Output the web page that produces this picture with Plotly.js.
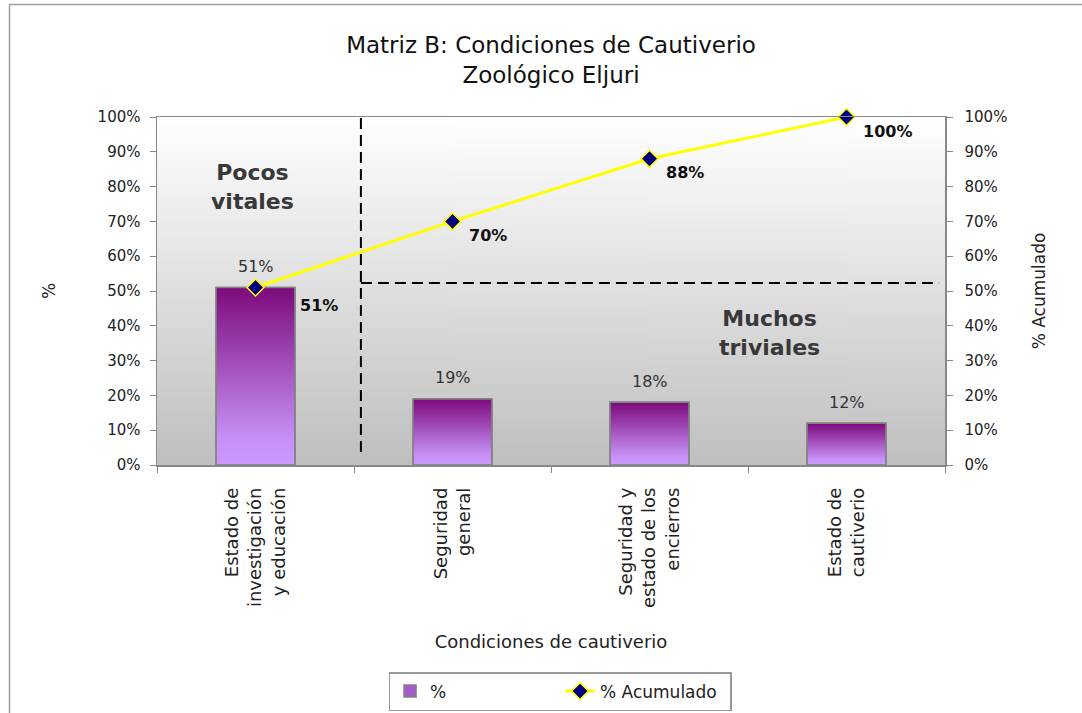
<!DOCTYPE html>
<html>
<head>
<meta charset="utf-8">
<script src="https://cdn.plot.ly/plotly-3.0.1.min.js"></script>
<style>
  html, body { margin: 0; padding: 0; background: #ffffff; }
  #chart { width: 1082px; height: 713px; }
</style>
</head>
<body>
<div id="chart"></div>
<script>
// ---- Data ----
const categories = [
  'Estado de<br>investigación<br>y educación',
  'Seguridad<br>general',
  'Seguridad y<br>estado de los<br>encierros',
  'Estado de<br>cautiverio'
];
const pctValues = [51, 19, 18, 12];
const cumValues = [51, 70, 88, 100];
const pctLabels = ['51%', '19%', '18%', '12%'];
const cumLabels = ['51%', '70%', '88%', '100%'];
const yTickValues = [0, 10, 20, 30, 40, 50, 60, 70, 80, 90, 100];
const yTickLabels = ['0%', '10%', '20%', '30%', '40%', '50%', '60%', '70%', '80%', '90%', '100%'];

const FONT = 'DejaVu Sans, sans-serif';
const idx = categories.map((c, i) => i);
const halfW = 0.2;

// background gradient for plot area
function gradientURL(top, bottom) {
  const cv = document.createElement('canvas');
  cv.width = 4; cv.height = 256;
  const ctx = cv.getContext('2d');
  const g = ctx.createLinearGradient(0, 0, 0, 256);
  g.addColorStop(0, top);
  g.addColorStop(1, bottom);
  ctx.fillStyle = g;
  ctx.fillRect(0, 0, 4, 256);
  return cv.toDataURL('image/png');
}

const traces = [];

// bar trace (data + legend)
traces.push({
  type: 'bar',
  name: '%',
  x: idx,
  y: pctValues,
  width: 2 * halfW,
  marker: { color: '#a55ad0', line: { color: '#808080', width: 1.5 } },
  hoverinfo: 'skip'
});

// gradient faces of the bars
pctValues.forEach((v, i) => {
  traces.push({
    type: 'scatter',
    mode: 'lines',
    x: [i - halfW, i + halfW, i + halfW, i - halfW, i - halfW],
    y: [0, 0, v, v, 0],
    fill: 'toself',
    fillgradient: {
      type: 'vertical',
      start: 0,
      stop: v,
      colorscale: [[0, '#cc99ff'], [0.15, '#c690f6'], [1, '#7d0a7d']]
    },
    line: { color: '#808080', width: 1.5 },
    showlegend: false,
    hoverinfo: 'skip'
  });
});

// cumulative line
traces.push({
  type: 'scatter',
  mode: 'lines+markers',
  name: '% Acumulado',
  x: idx,
  y: cumValues,
  yaxis: 'y2',
  line: { color: '#ffff00', width: 3 },
  marker: { symbol: 'diamond', size: 13, color: '#000080', line: { color: '#ffff00', width: 1.5 } },
  cliponaxis: false,
  hoverinfo: 'skip'
});

const annotations = [];
pctValues.forEach((v, i) => {
  annotations.push({
    x: i, y: v, xref: 'x', yref: 'y',
    text: pctLabels[i], showarrow: false,
    yanchor: 'middle', yshift: 21,
    font: { family: FONT, size: 16, color: '#333333' }
  });
});
cumValues.forEach((v, i) => {
  annotations.push({
    x: i, y: v, xref: 'x', yref: 'y2',
    text: '<b>' + cumLabels[i] + '</b>', showarrow: false,
    xanchor: 'left', yanchor: 'middle',
    xshift: i === 0 ? 42 : 14, yshift: i === 0 ? -18 : -14,
    font: { family: FONT, size: 16, color: '#111111' }
  });
});
annotations.push({
  x: -0.013, y: 79.9, xref: 'x', yref: 'y',
  text: '<b>Pocos<br>vitales</b>', showarrow: false,
  font: { family: FONT, size: 22, color: '#383838' }
});
annotations.push({
  x: 2.61, y: 37.9, xref: 'x', yref: 'y',
  text: '<b>Muchos<br>triviales</b>', showarrow: false,
  font: { family: FONT, size: 22, color: '#383838' }
});

const dashLine = { color: '#000000', width: 2, dash: '11px,6px' };
const shapes = [
  { type: 'line', xref: 'x', yref: 'y', x0: 0.535, x1: 0.535, y0: 3.7, y1: 100.5, line: dashLine },
  { type: 'line', xref: 'x', yref: 'y', x0: 0.535, x1: 3.47, y0: 52.3, y1: 52.3, line: dashLine },
  { type: 'path', xref: 'paper', yref: 'paper',
    path: 'M -0.1872,-0.72 L -0.1872,1.3233 L 1.18,1.3233',
    line: { color: '#a0a0a0', width: 1.5 } }
];

const boundaryTicks = [-0.5, 0.5, 1.5, 2.5, 3.5];

const layout = {
  width: 1082, height: 713,
  margin: { l: 157, r: 137, t: 117, b: 248, autoexpand: false },
  paper_bgcolor: '#ffffff',
  plot_bgcolor: '#c0c0c0',
  font: { family: FONT, color: '#222222' },
  hovermode: false,
  showlegend: true,
  title: {
    text: 'Matriz B: Condiciones de Cautiverio<br>Zoológico Eljuri',
    font: { family: FONT, size: 23, color: '#111111' },
    x: 0.5, xref: 'paper', xanchor: 'center',
    y: 0.925, yref: 'container', yanchor: 'middle'
  },
  images: [{
    source: gradientURL('#ffffff', '#bfbfbf'),
    xref: 'paper', yref: 'paper', x: 0, y: 1, sizex: 1, sizey: 1,
    xanchor: 'left', yanchor: 'top', sizing: 'stretch', layer: 'below'
  }],
  xaxis: {
    type: 'linear',
    range: [-0.5, 3.5],
    tickmode: 'array', tickvals: idx, ticktext: categories,
    tickangle: -90,
    ticks: '',
    ticklabelstandoff: 14,
    tickfont: { family: FONT, size: 18, color: '#222222' },
    minor: { tickmode: 'array', tickvals: boundaryTicks, ticks: 'outside', ticklen: 6, tickcolor: '#888888', tickwidth: 1, showgrid: false },
    showline: true, linecolor: '#888888', linewidth: 1.5, mirror: true,
    showgrid: false, zeroline: false, fixedrange: true,
    title: { text: 'Condiciones de cautiverio', font: { family: FONT, size: 18, color: '#222222' }, standoff: 28 }
  },
  xaxis2: {
    overlaying: 'x', anchor: 'y', side: 'bottom',
    type: 'linear', range: [-0.5, 3.5],
    tickmode: 'array', tickvals: boundaryTicks,
    ticks: 'inside', ticklen: 6, tickcolor: '#888888', tickwidth: 1,
    showticklabels: false, showline: false, showgrid: false, zeroline: false
  },
  yaxis: {
    range: [0, 100],
    tickmode: 'array', tickvals: yTickValues, ticktext: yTickLabels,
    ticks: 'outside', ticklen: 6, tickcolor: '#888888', tickwidth: 1,
    ticklabelstandoff: 6,
    tickfont: { family: FONT, size: 15, color: '#222222' },
    showline: true, linecolor: '#888888', linewidth: 1.5,
    showgrid: false, zeroline: false, fixedrange: true,
    title: { text: '%', font: { family: FONT, size: 17, color: '#222222' }, standoff: 37 }
  },
  yaxis2: {
    overlaying: 'y', side: 'right',
    range: [0, 100],
    tickmode: 'array', tickvals: yTickValues, ticktext: yTickLabels,
    ticks: 'outside', ticklen: 6, tickcolor: '#888888', tickwidth: 1,
    ticklabelstandoff: 9,
    tickfont: { family: FONT, size: 15, color: '#222222' },
    showline: true, linecolor: '#888888', linewidth: 1.5,
    showgrid: false, zeroline: false, fixedrange: true,
    title: { text: '% Acumulado', font: { family: FONT, size: 17, color: '#222222' }, standoff: 26 }
  },
  yaxis3: {
    overlaying: 'y', side: 'left', anchor: 'x', range: [0, 100],
    tickmode: 'array', tickvals: yTickValues,
    ticks: 'inside', ticklen: 6, tickcolor: '#888888', tickwidth: 1,
    showticklabels: false, showline: false, showgrid: false, zeroline: false
  },
  yaxis4: {
    overlaying: 'y', side: 'right', anchor: 'x', range: [0, 100],
    tickmode: 'array', tickvals: yTickValues,
    ticks: 'inside', ticklen: 6, tickcolor: '#888888', tickwidth: 1,
    showticklabels: false, showline: false, showgrid: false, zeroline: false
  },
  legend: {
    orientation: 'h',
    xref: 'container', yref: 'container',
    x: 0.5176, xanchor: 'center',
    y: 0.0575, yanchor: 'top',
    bgcolor: '#ffffff', bordercolor: '#999999', borderwidth: 1.5,
    font: { family: FONT, size: 17, color: '#222222' },
    entrywidth: 125, entrywidthmode: 'pixels',
    tracegroupgap: 0,
    traceorder: 'normal'
  },
  annotations: annotations,
  shapes: shapes
};

Plotly.newPlot('chart', traces, layout, { displayModeBar: false, staticPlot: true });
</script>
</body>
</html>
